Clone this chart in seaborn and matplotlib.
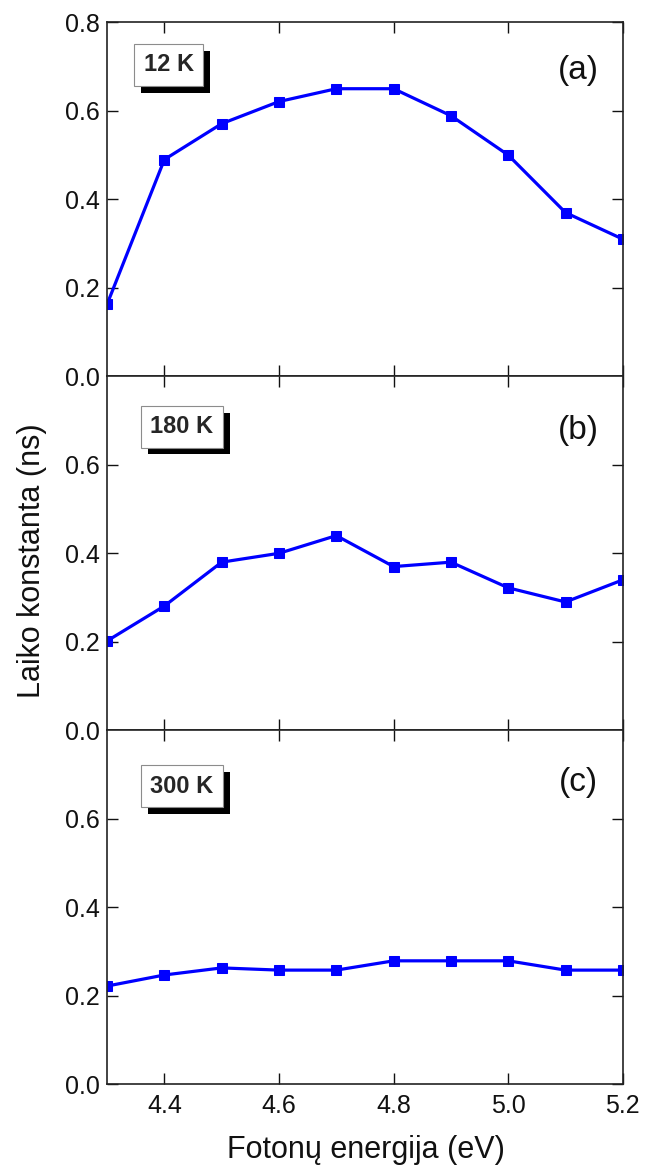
import matplotlib
matplotlib.use("Agg")
import matplotlib.pyplot as plt
import matplotlib.patheffects as pe
import seaborn as sns

# photon energy (eV) and decay time constants (ns)
energy = [4.3, 4.4, 4.5, 4.6, 4.7, 4.8, 4.9, 5.0, 5.1, 5.2]
tau_12K = [0.163, 0.49, 0.571, 0.621, 0.65, 0.65, 0.589, 0.50, 0.37, 0.31]
tau_180K = [0.202, 0.281, 0.38, 0.40, 0.44, 0.37, 0.38, 0.322, 0.29, 0.34]
tau_300K = [0.222, 0.247, 0.263, 0.258, 0.258, 0.279, 0.279, 0.279, 0.258, 0.258]

temps = ["12 K", "180 K", "300 K"]
tags = ["(a)", "(b)", "(c)"]
xticks = [4.4, 4.6, 4.8, 5.0, 5.2]

sns.set_style("ticks")
plt.rcParams["font.family"] = ["Liberation Sans", "DejaVu Sans"]

fig, axes = plt.subplots(3, 1, figsize=(6.57, 11.76), dpi=100, sharex=True)
fig.subplots_adjust(left=0.163, right=0.948, bottom=0.078, top=0.981, hspace=0)

series = [tau_12K, tau_180K, tau_300K]
box_pos = [(0.12, 0.88), (0.145, 0.858), (0.145, 0.842)]
tag_y = [0.864, 0.848, 0.853]

for i, ax in enumerate(axes):
    sns.lineplot(x=energy, y=series[i], ax=ax, color="#0000ff", marker="s",
                 markersize=7.5, markeredgecolor="#0000ff", linewidth=2.3)
    ax.set_xlim(4.3, 5.2)
    ax.set_ylim(0, 0.8)
    ax.set_xticks(xticks)
    if i == 0:
        ax.set_yticks([0.0, 0.2, 0.4, 0.6, 0.8])
    else:
        ax.set_yticks([0.0, 0.2, 0.4, 0.6])
    ax.tick_params(direction="in", length=8, width=1, top=True, right=True,
                   labelsize=18, colors="#111111", pad=5)
    ax.tick_params(axis="x", pad=7)
    for s in ax.spines.values():
        s.set_linewidth(1.2)
        s.set_color("#222222")

    t = ax.text(box_pos[i][0], box_pos[i][1], temps[i], transform=ax.transAxes,
                ha="center", va="center", fontsize=17, fontweight="bold",
                bbox=dict(boxstyle="square,pad=0.4", fc="white", ec="0.55", lw=0.8))
    t.get_bbox_patch().set_path_effects([
        pe.SimplePatchShadow(offset=(5, -5), shadow_rgbFace="black", alpha=1),
        pe.Normal()])
    ax.text(0.913, tag_y[i], tags[i], transform=ax.transAxes, ha="center",
            va="center", fontsize=24, color="#111111")

fig.text(0.049, 0.523, "Laiko konstanta (ns)", rotation=90, ha="center",
         va="center", fontsize=22, color="#111111")
fig.text(0.557, 0.022, "Fotonų energija (eV)", ha="center", va="center",
         fontsize=22, color="#111111")

fig.savefig("out.png", dpi=100)
